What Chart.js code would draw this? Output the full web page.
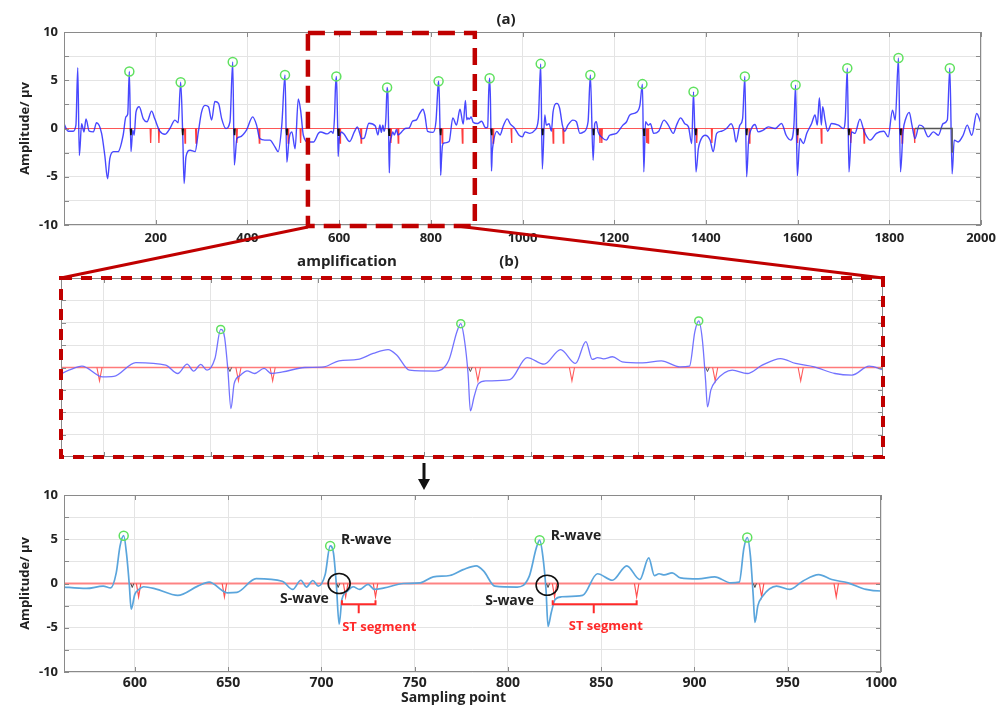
<!DOCTYPE html>
<html>
<head>
<meta charset="utf-8">
<script src="https://cdn.jsdelivr.net/npm/chart.js@4.4.1/dist/chart.umd.min.js"></script>
<style>
  html, body { margin: 0; padding: 0; background: #fff; }
  #wrap { position: relative; width: 1001px; height: 707px; overflow: hidden; }
  canvas { position: absolute; }
</style>
</head>
<body>
<div id="wrap">
  <canvas id="topChart" width="1001" height="250" style="left:0px;top:0px"></canvas>
  <canvas id="midChart" width="822" height="179" style="left:61px;top:278px"></canvas>
  <canvas id="bottomChart" width="1001" height="237" style="left:0px;top:470px"></canvas>
  <canvas id="overlay" width="1001" height="707" style="left:0px;top:0px"></canvas>
</div>
<script>
// ECG samples 0-560
const headX = [0, 9, 20, 26, 30, 33.4, 38.5, 43.6, 48, 55, 64, 71, 82, 89, 95, 100, 108, 118, 129, 135, 139, 142.5, 146, 150, 153, 157, 164, 173, 181, 191, 198, 209, 220, 231, 242, 249, 254.5, 259, 262, 266, 275, 286, 293, 300, 307.5, 315, 322, 329, 337, 344, 353, 362, 368, 371.5, 377, 384, 398, 411.5, 420, 427, 438, 449, 460, 467, 475, 482, 486, 491, 497, 504, 511, 516, 522, 533, 544, 555];
const headY = [0.5, -0.28, -0.28, 0.35, 6.3, -2.8, 0.5, -0.35, 1.0, -0.28, -0.35, 0.6, -0.5, -2.8, -5.2, -3.1, -2.4, -2.4, -0.7, 1.2, 1.5, 5.9, -2.4, -0.17, -0.7, 1.7, 2.25, 1.0, 0.7, 1.8, 1.0, -0.28, -0.6, 0, 0.87, 0.6, 4.8, -0.7, -5.7, -2.95, -2.25, -2.4, -0.35, 1.7, 2.4, 2.25, 0.87, 2.8, 2.6, 1.0, 0, 0.7, 6.9, -3.8, -1.04, -0.87, -0.17, 1.2, 0.35, -1.04, -1.2, -1.2, -1.9, -2.4, 0.35, 5.55, -3.5, -1.04, -0.35, -2.1, 3.05, 1.9, -0.7, -1.4, -1.4, -0.5];

// ECG samples 560-1015
const zoomX = [560, 574, 583, 587, 590, 592, 594, 595.5, 597, 598, 600, 602, 604.7, 611, 623, 633.7, 639.8, 649.5, 654.7, 665, 679, 684.6, 689, 692, 695.4, 698.3, 702, 704.7, 706.5, 708, 709.5, 711, 714, 717, 720.5, 725, 728.4, 733.7, 744, 753, 760, 768.8, 776, 783, 787, 793, 805, 811.4, 815.2, 817, 818.7, 820.4, 821.5, 823.2, 825.3, 828.8, 840, 848, 856, 863.7, 870.7, 875.5, 878.5, 881, 883.8, 888, 892.5, 902, 910.8, 919.5, 924, 926.5, 928.3, 930, 931.5, 932.4, 934, 936.3, 944, 951, 958, 966.6, 973.6, 982.3, 992, 1000, 1008, 1015];
const zoomY = [-0.37, -0.56, -0.3, -0.5, 1.2, 4.2, 5.4, 3.4, -0.1, -2.9, -1.2, -0.7, -0.37, -0.6, -1.35, -0.3, 0.15, -1.05, -1.0, 0.55, 0.26, -0.67, 0.37, -0.4, 0.34, -0.3, 1.0, 4.25, 3.4, -0.1, -4.6, -1.8, -0.86, -0.37, -0.67, -0.1, -0.67, -0.5, 0, 0.07, 0.75, 0.9, 1.57, 2.0, 1.4, -0.3, -0.4, 0.8, 4.0, 4.9, 3.1, -0.67, -4.85, -3.3, -1.8, -1.5, -1.35, 1.1, 0.37, 2.0, 0.45, 2.9, 0.9, 1.1, 0.97, 1.2, 0.63, 0.52, 0.75, 0.07, 0.15, 4.0, 5.2, 3.1, -1.4, -4.4, -2.5, -1.5, -0.3, -0.67, 0.26, 1.0, 0.45, 0.07, -0.67, -0.85, 0.15, -0.3];

// ECG samples 1005-2000
const tailX = [1005.5, 1016, 1027, 1034.6, 1039.7, 1043.2, 1048.6, 1052, 1058, 1063, 1066.6, 1075, 1081, 1087, 1092, 1099, 1110, 1117.6, 1125, 1133.6, 1143, 1148, 1154, 1157.6, 1161, 1165, 1172, 1183, 1190, 1205, 1219, 1227, 1234, 1248.5, 1256, 1261.6, 1264.6, 1268.3, 1274, 1279, 1286, 1297, 1308.7, 1318, 1329, 1336, 1345, 1354, 1362, 1369, 1373, 1378.4, 1383.5, 1387, 1398, 1409, 1416, 1423.5, 1434, 1445, 1455, 1461, 1465.6, 1474, 1480, 1485, 1488.8, 1493, 1499.5, 1507, 1514, 1525, 1536, 1551, 1565, 1575, 1585, 1592, 1595.6, 1599.4, 1605, 1612.6, 1620, 1630.6, 1638, 1643, 1647.5, 1651.8, 1654.7, 1660, 1665.6, 1674, 1689, 1700, 1704, 1708.4, 1712, 1717.7, 1725, 1736, 1745, 1758, 1772, 1788, 1797.5, 1807, 1813, 1820, 1824.4, 1830, 1836, 1843.6, 1849.4, 1856, 1865.4, 1874, 1885, 1896, 1907, 1917.6, 1926.5, 1932, 1937, 1941.6, 1950, 1961, 1970, 1980, 1990.5, 2000];
const tailY = [-0.35, -0.5, -0.17, 1.0, 6.7, -4.2, 1.4, 0.35, 0.5, -0.28, 1.7, 2.6, 2.1, 0.35, -0.28, 0.35, 0.87, 0.7, -0.5, -0.35, 0.7, 5.55, -3.3, 0.5, 0.7, -0.35, -0.87, -1.2, -0.7, -0.5, 0.35, 0.7, 1.4, 1.67, 2.4, 4.6, -4.5, 0.7, 0.35, 0.5, -0.5, -0.28, 0.87, 0.35, -0.5, 0.35, 1.1, 0.5, 0.17, -1.56, 3.8, -4.5, -2.1, -1.4, -0.7, -1.2, -2.4, -0.5, -0.28, 0, 0.5, -0.17, -1.4, 0.35, 1.0, 5.4, -5.0, -1.4, 0, 0.42, -0.35, -0.17, 0.17, 0, 0.52, -0.7, -1.2, 0.35, 4.5, -4.9, -1.04, -1.56, -0.5, 0.52, 1.4, 0.35, 3.2, 0.35, 2.25, 0.87, -0.28, 0.52, 0.35, 0, 1.0, 6.25, -4.5, -0.35, -0.5, 0.97, -0.28, -1.2, -0.5, -0.28, -0.87, 1.9, 0.87, 7.3, -4.5, -0.35, 1.04, 1.67, 0.35, -1.04, 0.35, 0.17, -0.87, -0.35, -0.7, 0.52, 0.87, 6.25, -4.7, -1.2, -1.4, -0.7, 0.35, -0.7, 1.56, 0.52];

// detected R peaks (green rings)
const rPeakX = [142.5, 254.5, 368, 482, 594, 704.7, 817, 928.3, 1039.7, 1148, 1261.6, 1373, 1485, 1595.6, 1708.4, 1820, 1932];
const rPeakY = [5.9, 4.8, 6.9, 5.55, 5.4, 4.25, 4.9, 5.2, 6.7, 5.55, 4.6, 3.8, 5.4, 4.5, 6.25, 7.3, 6.25];
// detected S points (small black marks)
const sMarkX = [146, 259, 372, 486, 598.6, 709, 821.5, 932.4, 1044, 1155, 1265, 1378, 1489, 1600, 1712, 1825];
// ST boundary marks (red)
const stMarkX = [189, 207, 264, 288, 377, 426, 489, 516, 602, 648, 713, 729, 825, 869, 936, 976, 1067, 1089, 1169, 1173, 1271, 1274, 1380, 1413, 1495, 1600, 1652, 1716, 1745, 1828, 1855];
// last detected beat drawn in grey
const greyX = [1856, 1937, 1937];
const greyY = [0, 0, -2.5];

const topXTicks = [200, 400, 600, 800, 1000, 1200, 1400, 1600, 1800, 2000];
const midXTicks = [650, 700, 750, 800, 850, 900, 950, 1000];
const bottomXTicks = [600, 650, 700, 750, 800, 850, 900, 950, 1000];
const yTicks = [-10, -7.5, -5, -2.5, 0, 2.5, 5, 7.5, 10];
const yLabels = [-10, -5, 0, 5, 10];

const zoomFrom = 532, zoomTo = 896;

const FONT = "'Open Sans', 'DejaVu Sans', sans-serif";
Chart.defaults.font.family = FONT;

function pts(xs, ys) {
    return xs.map((x, i) => ({ x: x, y: ys[i] }));
}

function vMarks(xs, depth, half) {
    const out = [];
    xs.forEach(x => {
        out.push({ x: x - half, y: 0 }, { x: x, y: depth }, { x: x + half, y: 0 }, { x: x, y: null });
    });
    return out;
}

function layers(line, base, st) {
    return [
        { data: pts(rPeakX, rPeakY), showLine: false, pointStyle: 'circle', pointRadius: st.ring,
          pointBorderWidth: 1.5, pointBorderColor: 'rgb(95,225,95)', pointBackgroundColor: 'rgba(0,0,0,0)', order: 0 },
        { data: vMarks(sMarkX, st.sDepth, st.sHalf), borderColor: st.sColor, borderWidth: st.sWidth, pointRadius: 0, order: 1 },
        { data: line, borderColor: st.lineColor, borderWidth: st.lineWidth, pointRadius: 0,
          cubicInterpolationMode: 'monotone', order: 2 },
        { data: vMarks(stMarkX, -1.5, st.vHalf), borderColor: st.vColor, borderWidth: st.vWidth, pointRadius: 0, order: 3 },
        { data: base, borderColor: st.baseColor, borderWidth: st.baseWidth, pointRadius: 0, order: 4 }
    ];
}

// box + matlab style inner ticks
const frame = {
    id: 'frame',
    afterDraw(chart) {
        const { ctx, chartArea: a, scales } = chart;
        ctx.save();
        ctx.strokeStyle = '#8a8a8a';
        ctx.lineWidth = 1;
        ctx.strokeRect(a.left + 0.5, a.top + 0.5, a.right - a.left - 1, a.bottom - a.top - 1);
        ctx.beginPath();
        scales.x.ticks.forEach(t => {
            const p = Math.round(scales.x.getPixelForValue(t.value)) + 0.5;
            ctx.moveTo(p, a.bottom); ctx.lineTo(p, a.bottom - 5);
            ctx.moveTo(p, a.top); ctx.lineTo(p, a.top + 5);
        });
        scales.y.ticks.forEach(t => {
            const p = Math.round(scales.y.getPixelForValue(t.value)) + 0.5;
            ctx.moveTo(a.left, p); ctx.lineTo(a.left + 5, p);
            ctx.moveTo(a.right, p); ctx.lineTo(a.right - 5, p);
        });
        ctx.stroke();
        ctx.restore();
    }
};

function axes(xMin, xMax, xTicks, showLabels, xFit, yFit) {
    const tickFont = { size: 13, weight: 'bold', family: FONT };
    return {
        x: {
            type: 'linear', min: xMin, max: xMax,
            afterBuildTicks: s => { s.ticks = xTicks.map(v => ({ value: v })); },
            afterFit: s => { s.height = xFit; },
            grid: { color: '#e4e4e4', drawTicks: false },
            border: { display: false },
            ticks: { display: showLabels, padding: 5, color: '#222', font: tickFont, maxRotation: 0, autoSkip: false,
                     callback: v => String(v) }
        },
        y: {
            min: -10, max: 10,
            afterBuildTicks: s => { s.ticks = yTicks.map(v => ({ value: v })); },
            afterFit: s => { s.width = yFit; },
            grid: { color: '#e4e4e4', drawTicks: false },
            border: { display: false },
            ticks: { display: showLabels, padding: 6, color: '#222', font: tickFont, autoSkip: false,
                     callback: v => yLabels.includes(v) ? String(v) : '' },
            title: { display: showLabels, text: 'Amplitude/ μv', color: '#222',
                     font: { size: 13, weight: 'bold', family: FONT }, padding: { top: 17, bottom: 0 } }
        }
    };
}

const baseOpts = {
    responsive: false,
    animation: false,
    events: [],
    plugins: { legend: { display: false }, tooltip: { enabled: false } }
};

// (a) whole record
const ecgTop = pts(headX, headY).concat(pts(zoomX, zoomY).filter(p => p.x <= 1000), pts(tailX, tailY));
const topSets = layers(ecgTop, [{ x: 0, y: 0 }, { x: 1856, y: 0 }], {
    ring: 4.5, lineColor: 'rgba(40,40,255,0.85)', lineWidth: 1.4,
    sDepth: -0.7, sHalf: 1, sColor: '#111', sWidth: 1.6,
    vHalf: 1, vColor: 'rgba(255,40,40,0.9)', vWidth: 1.3,
    baseColor: 'rgba(255,70,70,0.9)', baseWidth: 1.2
});
topSets.push({ data: pts(greyX, greyY), borderColor: '#555', borderWidth: 1.5, pointRadius: 0, order: 1 });
const topChart = new Chart(document.getElementById('topChart'), {
    type: 'line',
    data: { datasets: topSets },
    options: Object.assign({}, baseOpts, {
        layout: { autoPadding: false, padding: { top: 32, right: 20, left: 0, bottom: 0 } },
        scales: axes(0, 2000, topXTicks, true, 25, 64)
    }),
    plugins: [frame]
});

// (b) amplified view
const ecgZoom = pts(zoomX, zoomY);
const midChart = new Chart(document.getElementById('midChart'), {
    type: 'line',
    data: { datasets: layers(ecgZoom, [{ x: 560, y: 0 }, { x: 1015, y: 0 }], {
        ring: 4, lineColor: 'rgba(100,100,255,0.9)', lineWidth: 1.3,
        sDepth: -0.45, sHalf: 0.8, sColor: '#555', sWidth: 1,
        vHalf: 1.2, vColor: '#ff5a5a', vWidth: 1.1,
        baseColor: '#ff7a7a', baseWidth: 1.4
    }) },
    options: Object.assign({}, baseOpts, {
        layout: { autoPadding: false, padding: 0 },
        scales: axes(630, 1014.5, midXTicks, false, 0, 0)
    }),
    plugins: [frame]
});

// labels on the lower panel
const notes = {
    id: 'notes',
    afterDraw(chart) {
        const { ctx, chartArea: a } = chart;
        const xs = chart.scales.x, ys = chart.scales.y;
        const X = v => xs.getPixelForValue(v), Y = v => ys.getPixelForValue(v);
        ctx.save();
        ctx.fillStyle = '#222';
        ctx.textBaseline = 'middle';
        ctx.font = 'bold 14px ' + FONT;
        ctx.textAlign = 'left';
        ctx.fillText('R-wave', X(710.5), Y(4.9));
        ctx.fillText('R-wave', X(823), Y(5.4));
        ctx.textAlign = 'right';
        ctx.fillText('S-wave', X(704), Y(-1.7));
        ctx.fillText('S-wave', X(814), Y(-2.0));
        ctx.textAlign = 'center';
        ctx.fillText('Sampling point', (a.left + a.right) / 2 - 19, 228);

        ctx.strokeStyle = '#111';
        ctx.lineWidth = 1.6;
        [[709.5, 0], [821, -0.2]].forEach(c => {
            ctx.beginPath();
            ctx.ellipse(X(c[0]), Y(c[1]), 11, 10, 0, 0, Math.PI * 2);
            ctx.stroke();
        });

        ctx.strokeStyle = '#ff2a2a';
        ctx.fillStyle = '#ff2a2a';
        ctx.lineWidth = 2;
        [[711, 729, 720], [824, 869, 846]].forEach(b => {
            const y0 = Y(-2.35);
            ctx.beginPath();
            ctx.moveTo(X(b[0]), y0 - 4); ctx.lineTo(X(b[0]), y0);
            ctx.lineTo(X(b[1]), y0); ctx.lineTo(X(b[1]), y0 - 4);
            ctx.moveTo(X(b[2]), y0); ctx.lineTo(X(b[2]), y0 + 9);
            ctx.stroke();
        });
        ctx.font = 'bold 13px ' + FONT;
        ctx.fillText('ST segment', X(731), Y(-4.9));
        ctx.fillText('ST segment', X(852.5), Y(-4.8));
        ctx.restore();
    }
};

const bottomChart = new Chart(document.getElementById('bottomChart'), {
    type: 'line',
    data: { datasets: layers(ecgZoom, [{ x: 560, y: 0 }, { x: 1015, y: 0 }], {
        ring: 4.5, lineColor: '#5aa5dc', lineWidth: 1.7,
        sDepth: -0.45, sHalf: 0.8, sColor: '#444', sWidth: 1,
        vHalf: 1.2, vColor: '#ff5050', vWidth: 1.2,
        baseColor: 'rgba(255,120,120,0.9)', baseWidth: 2
    }) },
    options: Object.assign({}, baseOpts, {
        layout: { autoPadding: false, padding: { top: 25, right: 120, left: 0, bottom: 0 } },
        scales: (() => {
            const s = axes(562, 1000, bottomXTicks, true, 35, 64);
            s.x.ticks.font = { size: 14, weight: 'bold', family: FONT };
            s.x.ticks.padding = 3;
            return s;
        })()
    }),
    plugins: [frame, notes]
});

// zoom box, connectors, arrow and panel captions
const ov = document.getElementById('overlay').getContext('2d');
const ta = topChart.chartArea, tx = topChart.scales.x;
const ma = midChart.chartArea;
const mLeft = 61 + ma.left, mTop = 278 + ma.top, mRight = 61 + ma.right, mBottom = 278 + ma.bottom;
const bx0 = tx.getPixelForValue(zoomFrom), bx1 = tx.getPixelForValue(zoomTo);

ov.strokeStyle = '#c00000';
ov.lineWidth = 3;
ov.beginPath();
ov.moveTo(bx0, ta.bottom + 2); ov.lineTo(mLeft, mTop);
ov.moveTo(tx.getPixelForValue(857), ta.bottom + 1); ov.lineTo(mRight, mTop);
ov.stroke();

ov.setLineDash([17, 9]);
ov.lineWidth = 4.5;
ov.strokeRect(bx0, ta.top + 1, bx1 - bx0, ta.bottom - ta.top);
ov.setLineDash([11, 9]);
ov.lineWidth = 4;
ov.strokeRect(mLeft, mTop, mRight - mLeft, mBottom - mTop);
ov.setLineDash([]);

ov.strokeStyle = '#111';
ov.fillStyle = '#111';
ov.lineWidth = 3;
ov.beginPath();
ov.moveTo(424, 463); ov.lineTo(424, 480);
ov.stroke();
ov.beginPath();
ov.moveTo(418, 479); ov.lineTo(430, 479); ov.lineTo(424, 490);
ov.closePath();
ov.fill();

ov.fillStyle = '#222';
ov.font = 'bold 15px ' + FONT;
ov.textAlign = 'center';
ov.textBaseline = 'middle';
ov.fillText('(a)', 506, 20);
ov.fillText('amplification', 347, 262);
ov.fillText('(b)', 509, 262);
</script>
</body>
</html>
